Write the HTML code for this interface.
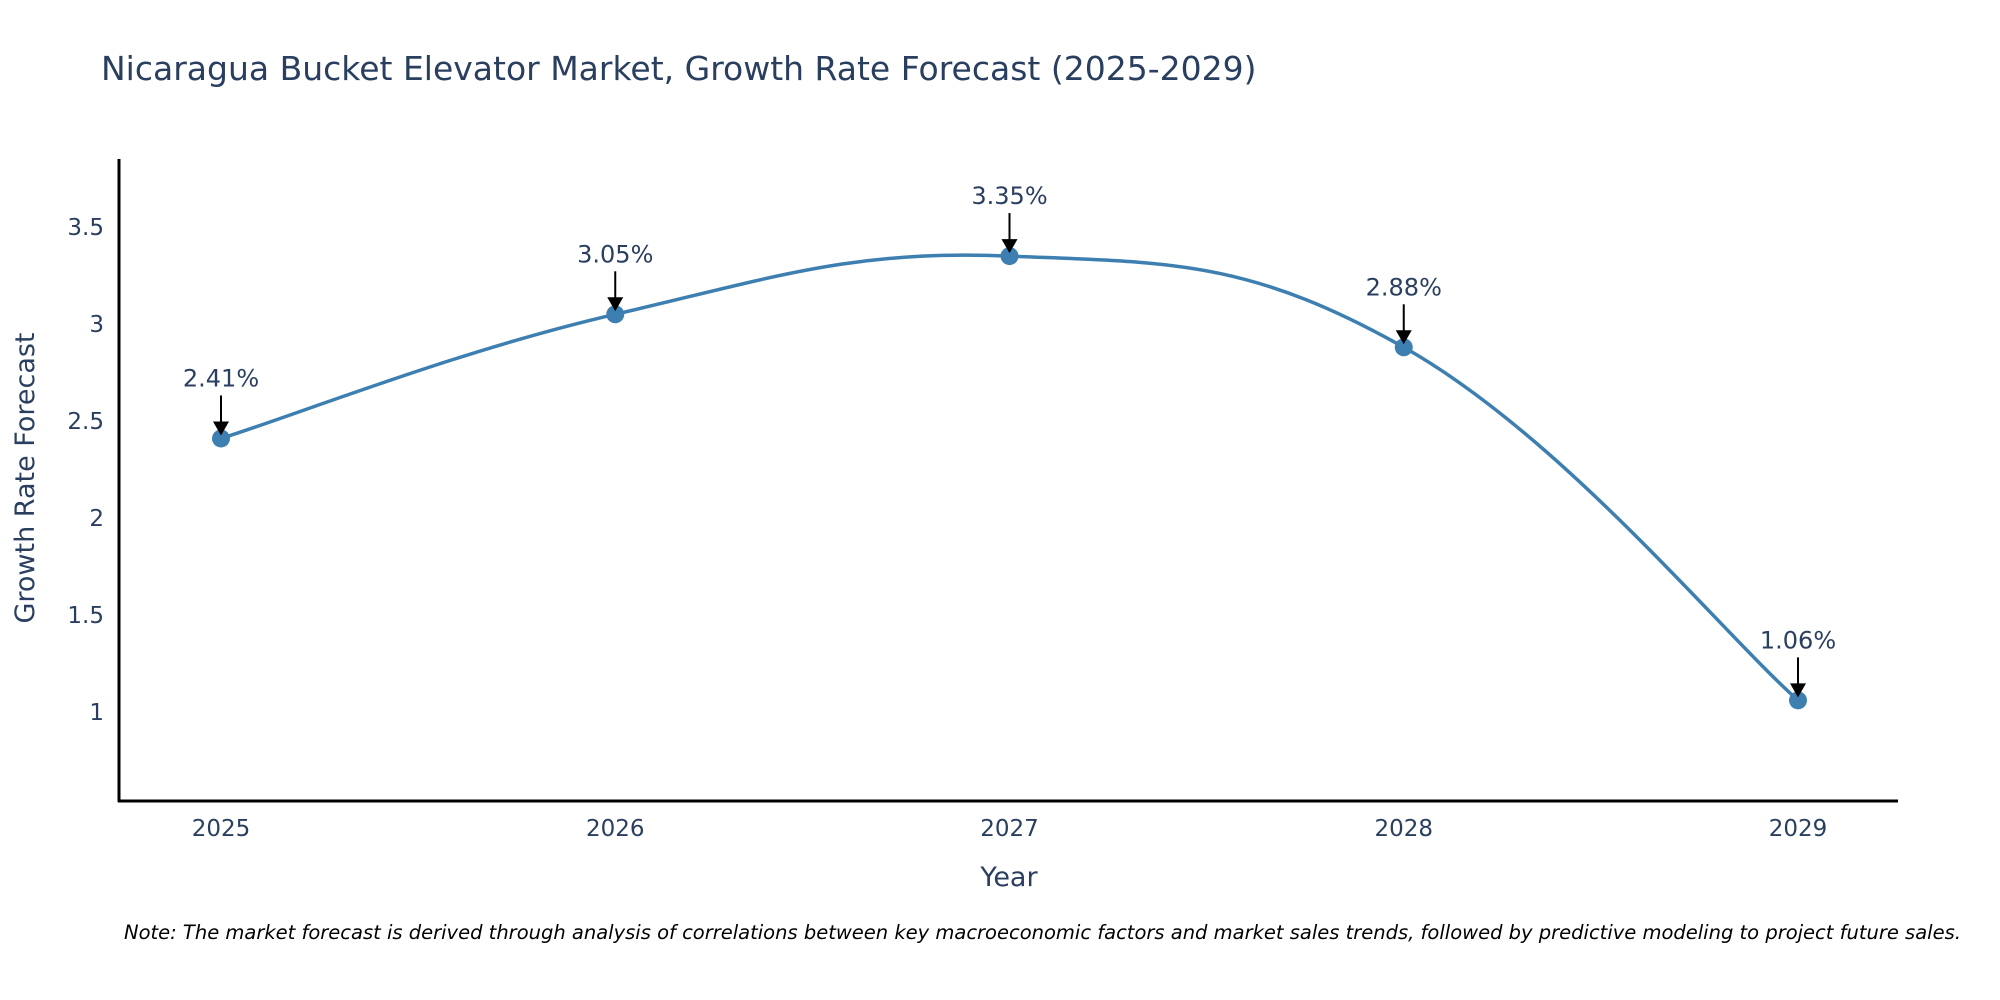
<!DOCTYPE html>
<html><head><meta charset="utf-8"><style>
body{margin:0;background:#fff}
svg{display:block;font-family:"DejaVu Sans","Liberation Sans",sans-serif}
</style></head><body>
<svg id="chart" width="2000" height="1000">
<text x="101" y="80" font-size="33" fill="#2a3f5f">Nicaragua Bucket Elevator Market, Growth Rate Forecast (2025-2029)</text>
<g id="yticks"></g>
<g id="xticks"></g>
<path id="line" fill="none" stroke="#3d7fb0" stroke-width="3.5"/>
<g id="marks"></g>
<g id="ann"></g>
<line x1="119" y1="159" x2="119" y2="802" stroke="#000" stroke-width="3"/>
<line x1="118" y1="801" x2="1898" y2="801" stroke="#000" stroke-width="3"/>
<text transform="translate(34,478) rotate(-90)" text-anchor="middle" font-size="27" fill="#2a3f5f">Growth Rate Forecast</text>
<text x="1009" y="886" text-anchor="middle" font-size="27" fill="#2a3f5f">Year</text>
<text x="124" y="939" font-size="19.5" font-style="italic" fill="#000">Note: The market forecast is derived through analysis of correlations between key macroeconomic factors and market sales trends, followed by predictive modeling to project future sales.</text>
</svg>
<script>
const years=[2025,2026,2027,2028,2029];
const values=[2.41,3.05,3.35,2.88,1.06];
const labels=["2.41%","3.05%","3.35%","2.88%","1.06%"];
const yTicks=[1,1.5,2,2.5,3,3.5];
const yTickLabels=["1","1.5","2","2.5","3","3.5"];
const NS="http://www.w3.org/2000/svg";
function X(v){return 221+(v-2025)*394.25;}
function Y(v){return 712-(v-1)*194;}
function mk(t,a,p){const e=document.createElementNS(NS,t);for(const k in a)e.setAttribute(k,a[k]);p.appendChild(e);return e;}
const yt=document.getElementById('yticks');
yTicks.forEach((v,i)=>{const t=mk('text',{x:104,y:Y(v)+8,'text-anchor':'end','font-size':23,fill:'#2a3f5f'},yt);


t.textContent=yTickLabels[i];});
const xt=document.getElementById('xticks');
years.forEach(y=>{const t=mk('text',{x:X(y),y:836,'text-anchor':'middle','font-size':23,fill:'#2a3f5f'},xt);


t.textContent=String(y);});
const P=years.map((y,i)=>[X(y),Y(values[i])]);
let d='M'+P[0][0]+','+P[0][1];const s=0.2;
for(let i=0;i<P.length-1;i++){const p0=P[Math.max(0,i-1)],p1=P[i],p2=P[i+1],p3=P[Math.min(P.length-1,i+2)];
const c1=[p1[0]+(p2[0]-p0[0])*s,p1[1]+(p2[1]-p0[1])*s],c2=[p2[0]-(p3[0]-p1[0])*s,p2[1]-(p3[1]-p1[1])*s];
d+=' C'+c1.join(',')+' '+c2.join(',')+' '+p2.join(',');}
document.getElementById('line').setAttribute('d',d);
const mg=document.getElementById('marks'),an=document.getElementById('ann');
P.forEach((p,i)=>{const c=mk('circle',{cx:p[0],cy:p[1],r:9,fill:'#3d7fb0'},mg);


const l=mk('line',{x1:p[0],y1:p[1]-43,x2:p[0],y2:p[1]-14,stroke:'#000','stroke-width':2},an);


const h=mk('polygon',{points:(p[0]-8)+','+(p[1]-17)+' '+(p[0]+8)+','+(p[1]-17)+' '+p[0]+','+(p[1]-3),fill:'#000'},an);


const t=mk('text',{x:p[0],y:p[1]-52,'text-anchor':'middle','font-size':24,fill:'#2a3f5f'},an);


t.textContent=labels[i];});
</script>
</body></html>
